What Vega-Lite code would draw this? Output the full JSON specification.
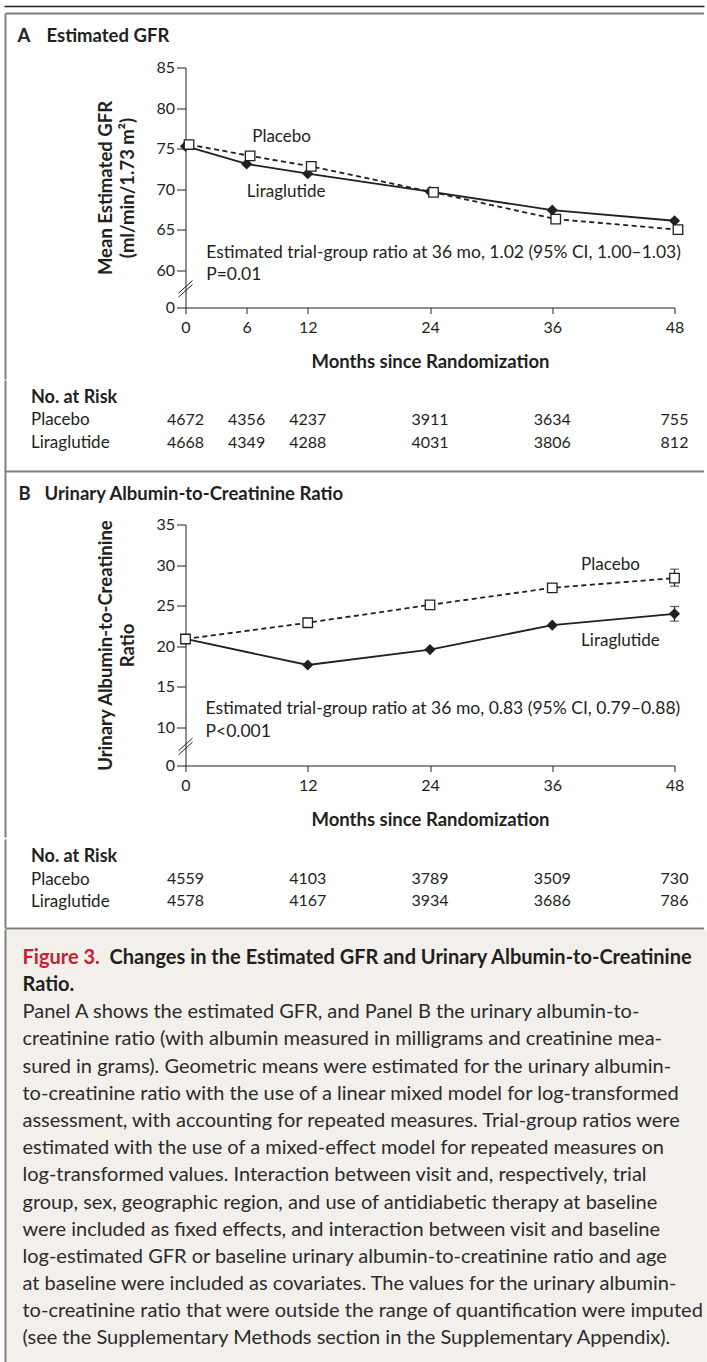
{
  "$schema": "https://vega.github.io/schema/vega-lite/v6.json",
  "description": "Figure 3: estimated GFR and urinary albumin-to-creatinine ratio over 48 months, liraglutide vs placebo, with numbers at risk.",
  "background": "white",
  "padding": {"top": 5.5, "left": 3.5, "right": 0, "bottom": 0},
  "spacing": -4,
  "config": {
    "font": "Lato",
    "view": {"stroke": null},
    "axis": {
      "domainColor": "#231f20", "tickColor": "#231f20", "labelColor": "#231f20", "titleColor": "#231f20",
      "labelFont": "Lato", "titleFont": "Lato", "labelFontSize": 16, "titleFontSize": 18.5,
      "titleFontWeight": "bold", "grid": false, "domainWidth": 1, "tickWidth": 1, "labelFlush": false, "labelOverlap": false
    },
    "text": {"font": "Lato", "color": "#231f20"}
  },
  "datasets": {
    "gfr": [
      {"month": 0, "group": "Liraglutide", "value": 75.3},
      {"month": 6, "group": "Liraglutide", "value": 73.1},
      {"month": 12, "group": "Liraglutide", "value": 71.9},
      {"month": 24, "group": "Liraglutide", "value": 69.7},
      {"month": 36, "group": "Liraglutide", "value": 67.4},
      {"month": 48, "group": "Liraglutide", "value": 66.1},
      {"month": 0, "group": "Placebo", "value": 75.5},
      {"month": 6, "group": "Placebo", "value": 74.1},
      {"month": 12, "group": "Placebo", "value": 72.8},
      {"month": 24, "group": "Placebo", "value": 69.6},
      {"month": 36, "group": "Placebo", "value": 66.3},
      {"month": 48, "group": "Placebo", "value": 65.0}
    ],
    "uacr": [
      {"month": 0, "group": "Liraglutide", "value": 20.9},
      {"month": 12, "group": "Liraglutide", "value": 17.7},
      {"month": 24, "group": "Liraglutide", "value": 19.6},
      {"month": 36, "group": "Liraglutide", "value": 22.6},
      {"month": 48, "group": "Liraglutide", "value": 24.0},
      {"month": 0, "group": "Placebo", "value": 20.9},
      {"month": 12, "group": "Placebo", "value": 22.9},
      {"month": 24, "group": "Placebo", "value": 25.1},
      {"month": 36, "group": "Placebo", "value": 27.2},
      {"month": 48, "group": "Placebo", "value": 28.4}
    ],
    "uacr_ci": [
      {"month": 48, "group": "Placebo", "lower": 27.4, "upper": 29.5},
      {"month": 48, "group": "Liraglutide", "lower": 23.1, "upper": 24.9}
    ],
    "risk_gfr": [
      {"month": 0, "group": "Placebo", "n": 4672},
      {"month": 6, "group": "Placebo", "n": 4356},
      {"month": 12, "group": "Placebo", "n": 4237},
      {"month": 24, "group": "Placebo", "n": 3911},
      {"month": 36, "group": "Placebo", "n": 3634},
      {"month": 48, "group": "Placebo", "n": 755},
      {"month": 0, "group": "Liraglutide", "n": 4668},
      {"month": 6, "group": "Liraglutide", "n": 4349},
      {"month": 12, "group": "Liraglutide", "n": 4288},
      {"month": 24, "group": "Liraglutide", "n": 4031},
      {"month": 36, "group": "Liraglutide", "n": 3806},
      {"month": 48, "group": "Liraglutide", "n": 812}
    ],
    "risk_uacr": [
      {"month": 0, "group": "Placebo", "n": 4559},
      {"month": 12, "group": "Placebo", "n": 4103},
      {"month": 24, "group": "Placebo", "n": 3789},
      {"month": 36, "group": "Placebo", "n": 3509},
      {"month": 48, "group": "Placebo", "n": 730},
      {"month": 0, "group": "Liraglutide", "n": 4578},
      {"month": 12, "group": "Liraglutide", "n": 4167},
      {"month": 24, "group": "Liraglutide", "n": 3934},
      {"month": 36, "group": "Liraglutide", "n": 3686},
      {"month": 48, "group": "Liraglutide", "n": 786}
    ],
    "caption": [
      {"line": 0, "text": "Changes in the Estimated GFR and Urinary Albumin-to-Creatinine"},
      {"line": 1, "text": "Ratio."},
      {"line": 2, "text": "Panel A shows the estimated GFR, and Panel B the urinary albumin-to-"},
      {"line": 3, "text": "creatinine ratio (with albumin measured in milligrams and creatinine mea-"},
      {"line": 4, "text": "sured in grams). Geometric means were estimated for the urinary albumin-"},
      {"line": 5, "text": "to-creatinine ratio with the use of a linear mixed model for log-transformed"},
      {"line": 6, "text": "assessment, with accounting for repeated measures. Trial-group ratios were"},
      {"line": 7, "text": "estimated with the use of a mixed-effect model for repeated measures on"},
      {"line": 8, "text": "log-transformed values. Interaction between visit and, respectively, trial"},
      {"line": 9, "text": "group, sex, geographic region, and use of antidiabetic therapy at baseline"},
      {"line": 10, "text": "were included as fixed effects, and interaction between visit and baseline"},
      {"line": 11, "text": "log-estimated GFR or baseline urinary albumin-to-creatinine ratio and age"},
      {"line": 12, "text": "at baseline were included as covariates. The values for the urinary albumin-"},
      {"line": 13, "text": "to-creatinine ratio that were outside the range of quantification were imputed"},
      {"line": 14, "text": "(see the Supplementary Methods section in the Supplementary Appendix)."}
    ]
  },
  "vconcat": [
    {
      "width": 489,
      "height": 240,
      "layer": [
        {
          "data": {"values": [{}]},
          "layer": [
            {
              "mark": {"type": "rule", "color": "#231f20", "strokeWidth": 1.5},
              "encoding": {
                "x": {"datum": -17.767, "type": "quantitative"},
                "x2": {"datum": 50.945},
                "y": {"datum": 1.25417, "type": "quantitative", "scale": {"domain": [0, 1], "nice": false, "zero": false}, "axis": null}
              }
            },
            {
              "mark": {"type": "rule", "color": "#7f7f7f", "strokeWidth": 2},
              "encoding": {
                "x": {"datum": -17.669, "type": "quantitative"},
                "x2": {"datum": 50.896},
                "y": {"datum": 1.225, "type": "quantitative", "axis": null}
              }
            },
            {
              "mark": {"type": "rule", "color": "#7f7f7f", "strokeWidth": 2},
              "encoding": {
                "x": {"datum": -17.669, "type": "quantitative"},
                "y": {"datum": 1.225, "type": "quantitative", "axis": null},
                "y2": {"datum": -0.3}
              }
            },
            {
              "mark": {"type": "text", "fontSize": 18.5, "fontWeight": "bold", "align": "left", "baseline": "middle"},
              "encoding": {
                "x": {"datum": -16.49, "type": "quantitative"},
                "y": {"datum": 1.12917, "type": "quantitative", "axis": null},
                "text": {"value": "A"}
              }
            },
            {
              "mark": {"type": "text", "fontSize": 18.5, "fontWeight": "bold", "align": "left", "baseline": "middle"},
              "encoding": {
                "x": {"datum": -13.644, "type": "quantitative"},
                "y": {"datum": 1.12917, "type": "quantitative", "axis": null},
                "text": {"value": "Estimated GFR"}
              }
            }
          ]
        },
        {
          "data": {"name": "gfr"},
          "layer": [
            {
              "transform": [{"filter": "datum.group === 'Liraglutide'"}],
              "mark": {"type": "line", "color": "#231f20", "strokeWidth": 1.8},
              "encoding": {
                "x": {
                  "field": "month", "type": "quantitative",
                  "scale": {"domain": [0, 48], "nice": false, "zero": false},
                  "axis": {"values": [0, 6, 12, 24, 36, 48], "tickCount": 12, "title": "Months since Randomization", "tickSize": 6, "labelPadding": 6, "titlePadding": 17, "labelOverlap": false}
                },
                "y": {
                  "field": "value", "type": "quantitative",
                  "scale": {"domain": [0, 60, 85], "range": [240, 202.7, 0], "nice": false, "zero": false},
                  "axis": {"values": [0, 60, 65, 70, 75, 80, 85], "tickCount": 12, "title": ["Mean Estimated GFR", "(ml/min/1.73 m²)"], "tickSize": 9, "labelPadding": 2, "titlePadding": 18, "titleLineHeight": 22, "labelOverlap": false}
                }
              }
            },
            {
              "transform": [{"filter": "datum.group === 'Placebo'"}],
              "mark": {"type": "line", "color": "#231f20", "strokeWidth": 1.8, "strokeDash": [5, 3.5], "xOffset": 3.5},
              "encoding": {
                "x": {"field": "month", "type": "quantitative"},
                "y": {"field": "value", "type": "quantitative"}
              }
            },
            {
              "transform": [{"filter": "datum.group === 'Liraglutide'"}],
              "mark": {"type": "point", "shape": "diamond", "filled": true, "color": "#231f20", "size": 125, "opacity": 1},
              "encoding": {
                "x": {"field": "month", "type": "quantitative"},
                "y": {"field": "value", "type": "quantitative"}
              }
            },
            {
              "transform": [{"filter": "datum.group === 'Placebo'"}],
              "mark": {"type": "point", "shape": "square", "filled": true, "fill": "white", "stroke": "#231f20", "strokeWidth": 1.3, "size": 90, "opacity": 1, "xOffset": 3.5},
              "encoding": {
                "x": {"field": "month", "type": "quantitative"},
                "y": {"field": "value", "type": "quantitative"}
              }
            },
            {
              "data": {"values": [{}]},
              "mark": {"type": "text", "fontSize": 17, "align": "left", "baseline": "middle"},
              "encoding": {
                "x": {"datum": 6.55, "type": "quantitative"},
                "y": {"datum": 76.45, "type": "quantitative"},
                "text": {"value": "Placebo"}
              }
            },
            {
              "data": {"values": [{}]},
              "mark": {"type": "text", "fontSize": 17, "align": "left", "baseline": "middle"},
              "encoding": {
                "x": {"datum": 6.02, "type": "quantitative"},
                "y": {"datum": 69.65, "type": "quantitative"},
                "text": {"value": "Liraglutide"}
              }
            },
            {
              "data": {"values": [{}]},
              "mark": {"type": "text", "fontSize": 17.5, "align": "left", "baseline": "middle"},
              "encoding": {
                "x": {"datum": 2.03, "type": "quantitative"},
                "y": {"datum": 62.12, "type": "quantitative"},
                "text": {"value": "Estimated trial-group ratio at 36 mo, 1.02 (95% CI, 1.00–1.03)"}
              }
            },
            {
              "data": {"values": [{}]},
              "mark": {"type": "text", "fontSize": 17.5, "align": "left", "baseline": "middle", "dy": 22},
              "encoding": {
                "x": {"datum": 2.03, "type": "quantitative"},
                "y": {"datum": 62.12, "type": "quantitative"},
                "text": {"value": "P=0.01"}
              }
            },
            {
              "data": {"values": [{}]},
              "mark": {"type": "rule", "color": "#231f20", "strokeWidth": 1},
              "encoding": {
                "x": {"datum": -0.687, "type": "quantitative"},
                "x2": {"datum": 0.687},
                "y": {"datum": 23.09, "type": "quantitative"},
                "y2": {"datum": 43.35}
              }
            },
            {
              "data": {"values": [{}]},
              "mark": {"type": "rule", "color": "#231f20", "strokeWidth": 1},
              "encoding": {
                "x": {"datum": -0.687, "type": "quantitative"},
                "x2": {"datum": 0.687},
                "y": {"datum": 16.65, "type": "quantitative"},
                "y2": {"datum": 36.91}
              }
            }
          ]
        }
      ],
      "resolve": {"scale": {"y": "independent"}}
    },
    {
      "width": 489,
      "height": 91,
      "layer": [
        {
          "data": {"values": [{}]},
          "layer": [
            {
              "mark": {"type": "rule", "color": "#7f7f7f", "strokeWidth": 2},
              "encoding": {
                "x": {"datum": -17.669, "type": "quantitative", "axis": null},
                "y": {"datum": 1, "type": "quantitative", "scale": {"domain": [0, 1], "nice": false, "zero": false}, "axis": null},
                "y2": {"datum": 0}
              }
            },
            {
              "mark": {"type": "rule", "color": "#7f7f7f", "strokeWidth": 2},
              "encoding": {
                "x": {"datum": -17.669, "type": "quantitative", "axis": null},
                "x2": {"datum": 50.896},
                "y": {"datum": 0, "type": "quantitative", "axis": null}
              }
            }
          ]
        },
        {
          "data": {"name": "risk_gfr"},
          "mark": {"type": "text", "fontSize": 16, "baseline": "middle"},
          "encoding": {
            "x": {"field": "month", "type": "quantitative", "scale": {"domain": [0, 48], "nice": false, "zero": false}, "axis": null},
            "y": {
              "field": "group", "type": "nominal",
              "scale": {"type": "point", "domain": ["No. at Risk", "Placebo", "Liraglutide"], "padding": 1.1163, "align": 0.3646},
              "axis": {
                "domain": false, "ticks": false, "tickSize": 0, "labelAlign": "left", "labelPadding": 155, "title": null,
                "labelFontSize": {"condition": {"test": "datum.value === 'No. at Risk'", "value": 18}, "value": 17},
                "labelFontWeight": {"condition": {"test": "datum.value === 'No. at Risk'", "value": "bold"}, "value": "normal"}
              }
            },
            "text": {"field": "n", "type": "quantitative", "format": "d"}
          }
        }
      ],
      "resolve": {"scale": {"y": "independent"}}
    },
    {
      "width": 489,
      "height": 241,
      "layer": [
        {
          "data": {"values": [{}]},
          "layer": [
            {
              "mark": {"type": "rule", "color": "#7f7f7f", "strokeWidth": 2},
              "encoding": {
                "x": {"datum": -17.669, "type": "quantitative"},
                "y": {"datum": 1.22407, "type": "quantitative", "scale": {"domain": [0, 1], "nice": false, "zero": false}, "axis": null},
                "y2": {"datum": -0.29876}
              }
            },
            {
              "mark": {"type": "text", "fontSize": 18.5, "fontWeight": "bold", "align": "left", "baseline": "middle"},
              "encoding": {
                "x": {"datum": -16.393, "type": "quantitative"},
                "y": {"datum": 1.12863, "type": "quantitative", "axis": null},
                "text": {"value": "B"}
              }
            },
            {
              "mark": {"type": "text", "fontSize": 18.5, "fontWeight": "bold", "align": "left", "baseline": "middle"},
              "encoding": {
                "x": {"datum": -13.84, "type": "quantitative"},
                "y": {"datum": 1.12863, "type": "quantitative", "axis": null},
                "text": {"value": "Urinary Albumin-to-Creatinine Ratio"}
              }
            }
          ]
        },
        {
          "data": {"name": "uacr"},
          "layer": [
            {
              "data": {"name": "uacr_ci"},
              "mark": {"type": "errorbar", "color": "#231f20", "ticks": {"size": 9, "thickness": 1.2}, "rule": {"strokeWidth": 1.2}},
              "encoding": {
                "x": {
                  "field": "month", "type": "quantitative",
                  "scale": {"domain": [0, 48], "nice": false, "zero": false},
                  "axis": {"values": [0, 12, 24, 36, 48], "tickCount": 12, "title": "Months since Randomization", "tickSize": 6, "labelPadding": 6, "titlePadding": 17, "labelOverlap": false}
                },
                "y": {
                  "field": "lower", "type": "quantitative",
                  "scale": {"domain": [0, 10, 35], "range": [241, 203, 0], "nice": false, "zero": false},
                  "axis": {"values": [0, 10, 15, 20, 25, 30, 35], "tickCount": 12, "title": ["Urinary Albumin-to-Creatinine", "Ratio"], "tickSize": 9, "labelPadding": 2, "titlePadding": 18, "titleLineHeight": 22, "labelOverlap": false}
                },
                "y2": {"field": "upper"}
              }
            },
            {
              "transform": [{"filter": "datum.group === 'Liraglutide'"}],
              "mark": {"type": "line", "color": "#231f20", "strokeWidth": 1.8},
              "encoding": {
                "x": {"field": "month", "type": "quantitative"},
                "y": {"field": "value", "type": "quantitative"}
              }
            },
            {
              "transform": [{"filter": "datum.group === 'Placebo'"}],
              "mark": {"type": "line", "color": "#231f20", "strokeWidth": 1.8, "strokeDash": [5, 3.5]},
              "encoding": {
                "x": {"field": "month", "type": "quantitative"},
                "y": {"field": "value", "type": "quantitative"}
              }
            },
            {
              "transform": [{"filter": "datum.group === 'Liraglutide'"}],
              "mark": {"type": "point", "shape": "diamond", "filled": true, "color": "#231f20", "size": 125, "opacity": 1},
              "encoding": {
                "x": {"field": "month", "type": "quantitative"},
                "y": {"field": "value", "type": "quantitative"}
              }
            },
            {
              "transform": [{"filter": "datum.group === 'Placebo'"}],
              "mark": {"type": "point", "shape": "square", "filled": true, "fill": "white", "stroke": "#231f20", "strokeWidth": 1.3, "size": 90, "opacity": 1},
              "encoding": {
                "x": {"field": "month", "type": "quantitative"},
                "y": {"field": "value", "type": "quantitative"}
              }
            },
            {
              "data": {"values": [{}]},
              "mark": {"type": "text", "fontSize": 17, "align": "left", "baseline": "middle"},
              "encoding": {
                "x": {"datum": 38.83, "type": "quantitative"},
                "y": {"datum": 29.99, "type": "quantitative"},
                "text": {"value": "Placebo"}
              }
            },
            {
              "data": {"values": [{}]},
              "mark": {"type": "text", "fontSize": 17, "align": "left", "baseline": "middle"},
              "encoding": {
                "x": {"datum": 38.83, "type": "quantitative"},
                "y": {"datum": 20.71, "type": "quantitative"},
                "text": {"value": "Liraglutide"}
              }
            },
            {
              "data": {"values": [{}]},
              "mark": {"type": "text", "fontSize": 17.5, "align": "left", "baseline": "middle"},
              "encoding": {
                "x": {"datum": 1.96, "type": "quantitative"},
                "y": {"datum": 12.22, "type": "quantitative"},
                "text": {"value": "Estimated trial-group ratio at 36 mo, 0.83 (95% CI, 0.79–0.88)"}
              }
            },
            {
              "data": {"values": [{}]},
              "mark": {"type": "text", "fontSize": 17.5, "align": "left", "baseline": "middle", "dy": 22.5},
              "encoding": {
                "x": {"datum": 1.96, "type": "quantitative"},
                "y": {"datum": 12.22, "type": "quantitative"},
                "text": {"value": "P<0.001"}
              }
            },
            {
              "data": {"values": [{}]},
              "mark": {"type": "rule", "color": "#231f20", "strokeWidth": 1},
              "encoding": {
                "x": {"datum": -0.687, "type": "quantitative"},
                "x2": {"datum": 0.687},
                "y": {"datum": 3.868, "type": "quantitative"},
                "y2": {"datum": 7.184}
              }
            },
            {
              "data": {"values": [{}]},
              "mark": {"type": "rule", "color": "#231f20", "strokeWidth": 1},
              "encoding": {
                "x": {"datum": -0.687, "type": "quantitative"},
                "x2": {"datum": 0.687},
                "y": {"datum": 2.816, "type": "quantitative"},
                "y2": {"datum": 6.132}
              }
            }
          ]
        }
      ],
      "resolve": {"scale": {"y": "independent"}}
    },
    {
      "width": 489,
      "height": 89,
      "layer": [
        {
          "data": {"values": [{}]},
          "layer": [
            {
              "mark": {"type": "rule", "color": "#7f7f7f", "strokeWidth": 2},
              "encoding": {
                "x": {"datum": -17.669, "type": "quantitative", "axis": null},
                "y": {"datum": 1, "type": "quantitative", "scale": {"domain": [0, 1], "nice": false, "zero": false}, "axis": null},
                "y2": {"datum": 0}
              }
            },
            {
              "mark": {"type": "rule", "color": "#7f7f7f", "strokeWidth": 2},
              "encoding": {
                "x": {"datum": -17.669, "type": "quantitative", "axis": null},
                "x2": {"datum": 50.896},
                "y": {"datum": 0, "type": "quantitative", "axis": null}
              }
            }
          ]
        },
        {
          "data": {"name": "risk_uacr"},
          "mark": {"type": "text", "fontSize": 16, "baseline": "middle"},
          "encoding": {
            "x": {"field": "month", "type": "quantitative", "scale": {"domain": [0, 48], "nice": false, "zero": false}, "axis": null},
            "y": {
              "field": "group", "type": "nominal",
              "scale": {"type": "point", "domain": ["No. at Risk", "Placebo", "Liraglutide"], "padding": 1.0698, "align": 0.3913},
              "axis": {
                "domain": false, "ticks": false, "tickSize": 0, "labelAlign": "left", "labelPadding": 155, "title": null,
                "labelFontSize": {"condition": {"test": "datum.value === 'No. at Risk'", "value": 18}, "value": 17},
                "labelFontWeight": {"condition": {"test": "datum.value === 'No. at Risk'", "value": "bold"}, "value": "normal"}
              }
            },
            "text": {"field": "n", "type": "quantitative", "format": "d"}
          }
        }
      ],
      "resolve": {"scale": {"y": "independent"}}
    },
    {
      "width": 489,
      "height": 435,
      "layer": [
        {
          "data": {"values": [{}]},
          "layer": [
            {
              "mark": {"type": "rect", "color": "#f3f0eb"},
              "encoding": {
                "x": {"datum": -17.571, "type": "quantitative", "scale": {"domain": [0, 48], "nice": false, "zero": false}, "axis": null},
                "x2": {"datum": 51.141},
                "y": {"datum": 0.9977, "type": "quantitative", "scale": {"domain": [0, 1], "nice": false, "zero": false}, "axis": null},
                "y2": {"datum": 0}
              }
            },
            {
              "mark": {"type": "rule", "color": "#7f7f7f", "strokeWidth": 2},
              "encoding": {
                "x": {"datum": -17.669, "type": "quantitative", "axis": null},
                "y": {"datum": 1, "type": "quantitative", "axis": null},
                "y2": {"datum": 0.0046}
              }
            }
          ]
        },
        {
          "data": {"name": "caption"},
          "layer": [
            {
              "transform": [{"filter": "datum.line === 0"}],
              "mark": {"type": "text", "fontSize": 20, "fontWeight": "bold", "align": "left", "baseline": "middle", "dx": 87},
              "encoding": {
                "x": {"datum": -16.0, "type": "quantitative", "axis": null},
                "y": {
                  "field": "line", "type": "ordinal",
                  "scale": {"type": "point", "domain": [0, 1, 2, 3, 4, 5, 6, 7, 8, 9, 10, 11, 12, 13, 14], "padding": 1.0556, "align": 0.521},
                  "axis": null
                },
                "text": {"field": "text"}
              }
            },
            {
              "transform": [{"filter": "datum.line === 0"}],
              "mark": {"type": "text", "fontSize": 20, "fontWeight": "bold", "align": "left", "baseline": "middle", "color": "#c8202f"},
              "encoding": {
                "x": {"datum": -16.0, "type": "quantitative", "axis": null},
                "y": {"field": "line", "type": "ordinal", "axis": null},
                "text": {"value": "Figure 3."}
              }
            },
            {
              "transform": [{"filter": "datum.line === 1"}],
              "mark": {"type": "text", "fontSize": 20, "fontWeight": "bold", "align": "left", "baseline": "middle"},
              "encoding": {
                "x": {"datum": -16.0, "type": "quantitative", "axis": null},
                "y": {"field": "line", "type": "ordinal", "axis": null},
                "text": {"field": "text"}
              }
            },
            {
              "transform": [{"filter": "datum.line >= 2"}],
              "mark": {"type": "text", "fontSize": 20, "align": "left", "baseline": "middle", "color": "#2b2b2b"},
              "encoding": {
                "x": {"datum": -16.0, "type": "quantitative", "axis": null},
                "y": {"field": "line", "type": "ordinal", "axis": null},
                "text": {"field": "text"}
              }
            }
          ]
        }
      ],
      "resolve": {"scale": {"y": "independent"}}
    }
  ]
}
